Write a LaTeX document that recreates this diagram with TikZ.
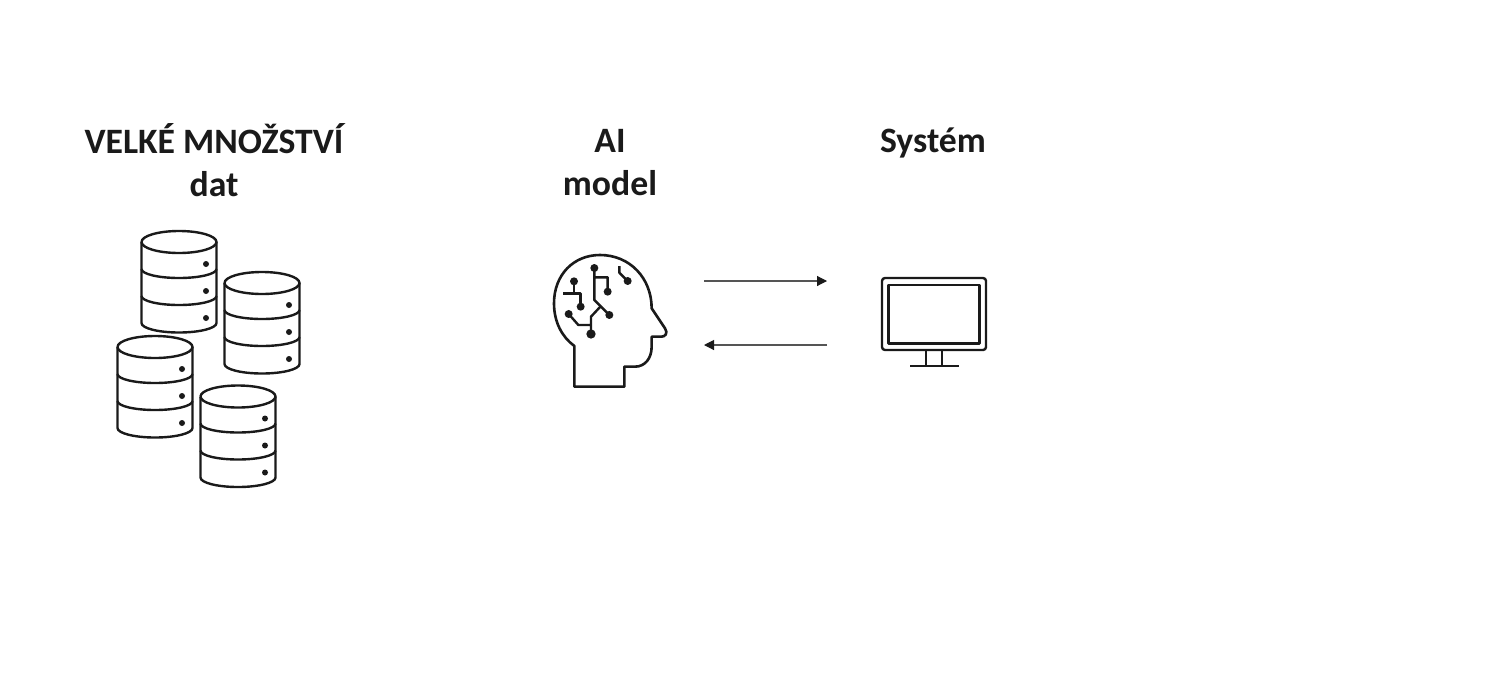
\documentclass[tikz,border=0pt]{standalone}
\usepackage{fontspec}
\setmainfont{Carlito}
\usepackage{xcolor}
\usetikzlibrary{arrows.meta,positioning}
\definecolor{ink}{HTML}{1A1A1A}
\definecolor{wire}{HTML}{555555}
\tikzset{
  title/.style={font=\fontsize{35.7}{43}\selectfont\bfseries,text=ink,align=center,inner sep=0pt},
  icon/.style={draw=ink,line width=2.4pt,line join=round,fill=none},
  dot/.style={fill=ink,draw=none},
  flow/.style={-{Triangle[length=10pt,width=10pt,color=ink]},draw=wire,line width=1.1pt},
  dbstack/.pic={
    \draw[icon] (-37.5,0) arc[start angle=180,end angle=540,x radius=37.5,y radius=11];
    \draw[icon] (-37.5,0) -- (-37.5,81) arc[start angle=180,end angle=360,x radius=37.5,y radius=-9.5] -- (37.5,0);
    \draw[icon] (-37.5,27) arc[start angle=180,end angle=360,x radius=37.5,y radius=-9];
    \draw[icon] (-37.5,54) arc[start angle=180,end angle=360,x radius=37.5,y radius=-9];
    \foreach \doty in {22,49,76} \fill[dot] (27,\doty) circle (3);
  }
}
\begin{document}
\begin{tikzpicture}[x=1pt,y=-1pt]
  \useasboundingbox (0,0) rectangle (1503,688);
  \node[title] (data) at (214,160) {VELKÉ MNOŽSTVÍ\\dat};
  \node[title] (model) at (610,162.5) {AI\\model};
  \node[title,anchor=base] (system) at (933,152) {Systém};
  % databases
  \pic at (179,242) {dbstack};
  \pic at (262,283) {dbstack};
  \pic at (155,347) {dbstack};
  \pic at (238,396.5) {dbstack};
  % head
  \begin{scope}[shift={(530pt,-240pt)},x=0.3333pt,y=-0.3333pt]
    \draw[icon,line width=2.6pt] (133,440) -- (133,318) .. controls (95,290) and (72,245) .. (72,190)
      .. controls (72,105) and (130,45) .. (210,45) .. controls (300,45) and (365,115) .. (365,205)
      -- (405,265) .. controls (415,280) and (405,290) .. (395,290) -- (365,290) -- (365,320)
      .. controls (365,355) and (345,380) .. (315,380) -- (283,380) -- (283,440) -- cycle;
    \draw[icon] (132,124) -- (132,160) (100,160) -- (152,160) -- (152,200);
    \draw[icon] (193,84) -- (193,180) -- (238,225) (193,112) -- (233,112) -- (233,155);
    \draw[icon] (116,222) -- (145,255) -- (183,255) -- (183,230) -- (212,199) (183,255) -- (183,282);
    \draw[icon] (268,78) -- (268,98) -- (293,123);
    \foreach \dotx/\doty in {132/124,152/200,193/84,233/155,238/225,116/222,293/123}
      \fill[dot] (\dotx,\doty) circle (12);
    \fill[dot] (183,282) circle (14);
  \end{scope}
  % monitor
  \draw[icon,rounded corners=3pt] (882,278) rectangle (986,350);
  \draw[icon] (888.5,285) rectangle (979.5,343.5);
  \draw[icon] (925.7,350) -- (925.7,366) (941.7,350) -- (941.7,366) (910,366) -- (958.5,366);
  % arrows
  \coordinate (modelout) at (704,281);
  \coordinate (systemin) at (827,281);
  \coordinate (systemout) at (827,345);
  \coordinate (modelin) at (704,345);
  \draw[flow] (modelout) -- (systemin);
  \draw[flow] (systemout) -- (modelin);
\end{tikzpicture}
\end{document}
